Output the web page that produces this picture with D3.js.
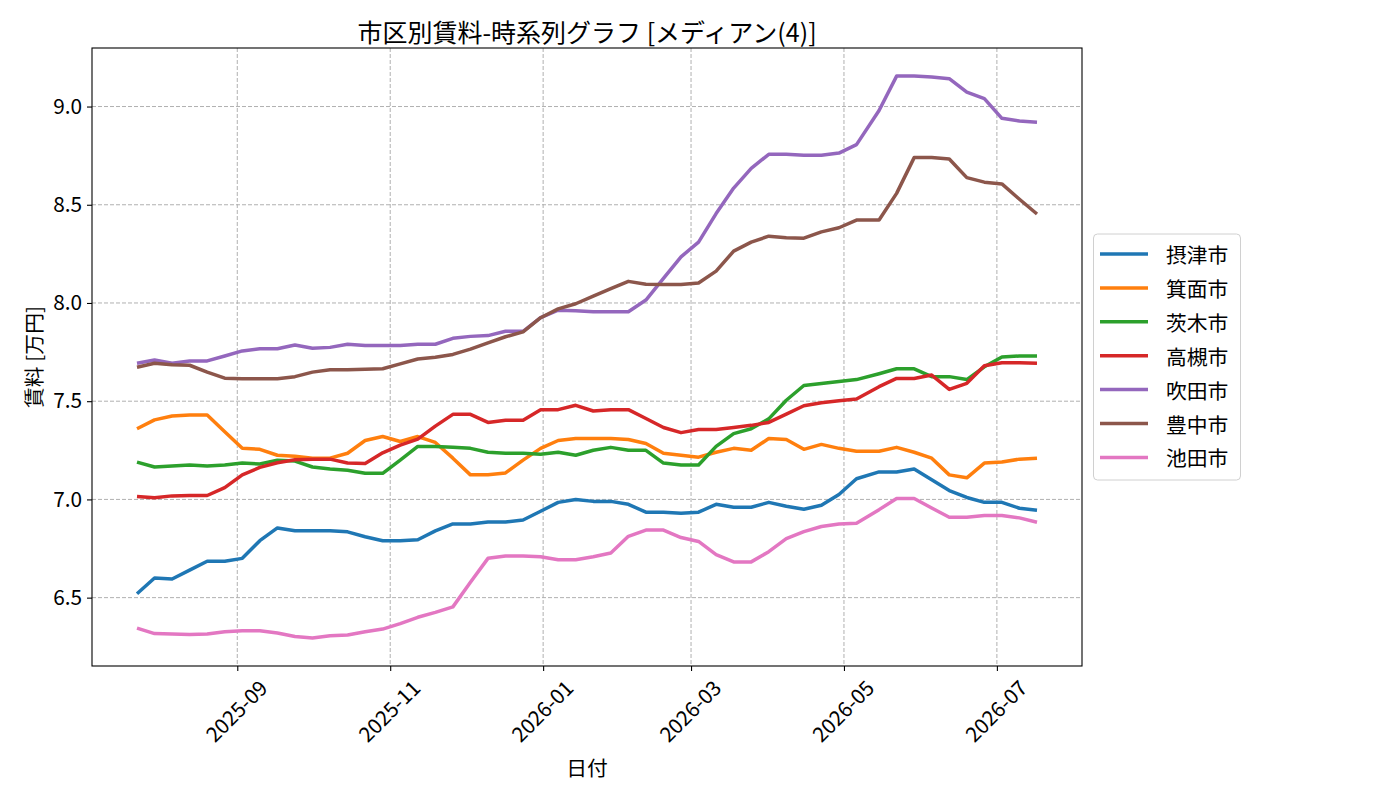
<!DOCTYPE html>
<html>
<head>
<meta charset="utf-8">
<script src="https://cdn.jsdelivr.net/npm/d3@7"></script>
<style>
  body { margin: 0; background: #fff; }
  text { font-family: "Noto Sans CJK JP", "Noto Sans", sans-serif; fill: #000; }
</style>
</head>
<body>
<svg id="chart" width="1400" height="800"></svg>
<script>
// weekly observation dates (one 9-day gap in May 2026)
const dates = [
  "2025-07-23","2025-07-30","2025-08-06","2025-08-13","2025-08-20","2025-08-27",
  "2025-09-03","2025-09-10","2025-09-17","2025-09-24","2025-10-01","2025-10-08",
  "2025-10-15","2025-10-22","2025-10-29","2025-11-05","2025-11-12","2025-11-19",
  "2025-11-26","2025-12-03","2025-12-10","2025-12-17","2025-12-24","2025-12-31",
  "2026-01-07","2026-01-14","2026-01-21","2026-01-28","2026-02-04","2026-02-11",
  "2026-02-18","2026-02-25","2026-03-04","2026-03-11","2026-03-18","2026-03-25",
  "2026-04-01","2026-04-08","2026-04-15","2026-04-22","2026-04-29","2026-05-06",
  "2026-05-15","2026-05-22","2026-05-29","2026-06-05","2026-06-12","2026-06-19",
  "2026-06-26","2026-07-03","2026-07-10","2026-07-17"
];

const cityNames = ["摂津市", "箕面市", "茨木市", "高槻市", "吹田市", "豊中市", "池田市"];
const cityColors = ["#1f77b4", "#ff7f0e", "#2ca02c", "#d62728", "#9467bd", "#8c564b", "#e377c2"];

const settsu = [6.52, 6.60, 6.595, 6.64, 6.685, 6.685, 6.70, 6.79, 6.855, 6.84, 6.84, 6.84, 6.835, 6.81, 6.79, 6.79, 6.795, 6.84, 6.875, 6.875, 6.885, 6.885, 6.895, 6.94, 6.985, 7.00, 6.99, 6.99, 6.975, 6.935, 6.935, 6.93, 6.935, 6.975, 6.96, 6.96, 6.985, 6.965, 6.95, 6.97, 7.025, 7.105, 7.14, 7.14, 7.155, 7.10, 7.045, 7.01, 6.985, 6.985, 6.955, 6.945];
const minoh = [7.36, 7.405, 7.425, 7.43, 7.43, 7.345, 7.26, 7.255, 7.225, 7.22, 7.21, 7.21, 7.235, 7.30, 7.32, 7.295, 7.32, 7.29, 7.21, 7.125, 7.125, 7.135, 7.20, 7.26, 7.30, 7.31, 7.31, 7.31, 7.305, 7.285, 7.235, 7.225, 7.215, 7.24, 7.26, 7.25, 7.31, 7.305, 7.255, 7.28, 7.26, 7.245, 7.245, 7.265, 7.24, 7.21, 7.125, 7.11, 7.185, 7.19, 7.205, 7.21];
const ibaraki = [7.19, 7.165, 7.17, 7.175, 7.17, 7.175, 7.185, 7.18, 7.20, 7.195, 7.165, 7.155, 7.148, 7.133, 7.133, 7.20, 7.27, 7.27, 7.265, 7.26, 7.24, 7.235, 7.235, 7.23, 7.24, 7.225, 7.25, 7.265, 7.25, 7.25, 7.185, 7.175, 7.175, 7.27, 7.335, 7.36, 7.41, 7.505, 7.58, 7.59, 7.60, 7.61, 7.64, 7.665, 7.665, 7.625, 7.625, 7.61, 7.675, 7.725, 7.73, 7.73];
const takatsuki = [7.015, 7.008, 7.018, 7.02, 7.02, 7.06, 7.125, 7.163, 7.187, 7.202, 7.205, 7.205, 7.185, 7.183, 7.237, 7.276, 7.307, 7.373, 7.433, 7.433, 7.392, 7.403, 7.403, 7.457, 7.457, 7.479, 7.45, 7.457, 7.457, 7.412, 7.366, 7.34, 7.356, 7.356, 7.366, 7.377, 7.392, 7.434, 7.477, 7.492, 7.502, 7.511, 7.574, 7.616, 7.616, 7.633, 7.56, 7.591, 7.68, 7.696, 7.696, 7.693];
const suita = [7.693, 7.71, 7.693, 7.705, 7.705, 7.73, 7.756, 7.767, 7.767, 7.786, 7.77, 7.774, 7.79, 7.783, 7.783, 7.783, 7.79, 7.79, 7.82, 7.83, 7.834, 7.856, 7.856, 7.925, 7.963, 7.96, 7.955, 7.955, 7.955, 8.015, 8.125, 8.235, 8.31, 8.455, 8.585, 8.685, 8.757, 8.757, 8.752, 8.752, 8.763, 8.806, 8.98, 9.155, 9.155, 9.15, 9.142, 9.073, 9.04, 8.94, 8.926, 8.92];
const toyonaka = [7.673, 7.693, 7.685, 7.683, 7.648, 7.617, 7.614, 7.614, 7.614, 7.625, 7.648, 7.66, 7.66, 7.663, 7.665, 7.69, 7.715, 7.724, 7.738, 7.765, 7.797, 7.828, 7.853, 7.925, 7.97, 7.996, 8.035, 8.073, 8.11, 8.095, 8.094, 8.094, 8.102, 8.162, 8.264, 8.31, 8.34, 8.332, 8.33, 8.362, 8.383, 8.422, 8.422, 8.558, 8.74, 8.74, 8.733, 8.638, 8.615, 8.606, 8.528, 8.453];
const ikeda = [6.345, 6.317, 6.315, 6.312, 6.315, 6.326, 6.331, 6.331, 6.32, 6.302, 6.295, 6.306, 6.31, 6.326, 6.34, 6.368, 6.4, 6.425, 6.453, 6.578, 6.7, 6.712, 6.712, 6.708, 6.693, 6.693, 6.708, 6.727, 6.812, 6.844, 6.844, 6.806, 6.786, 6.719, 6.682, 6.682, 6.734, 6.8, 6.836, 6.862, 6.875, 6.879, 6.948, 7.005, 7.005, 6.956, 6.909, 6.909, 6.918, 6.918, 6.906, 6.884];

const xTickDates = ["2025-09-01", "2025-11-01", "2026-01-01", "2026-03-01", "2026-05-01", "2026-07-01"];
const yTickValues = [6.5, 7.0, 7.5, 8.0, 8.5, 9.0];

const seriesValues = [settsu, minoh, ibaraki, takatsuki, suita, toyonaka, ikeda];

const svg = d3.select("#chart");
const margin = {top: 48, right: 318, bottom: 134, left: 92};
const width = +svg.attr("width");
const height = +svg.attr("height");
const plotW = width - margin.left - margin.right;
const plotH = height - margin.top - margin.bottom;
const fs = 20.8;
const lw = 3.5;

const parse = d3.timeParse("%Y-%m-%d");
const dateObjs = dates.map(parse);

const series = cityNames.map((name, i) => ({
  name,
  color: cityColors[i],
  values: seriesValues[i].map((v, j) => ({date: dateObjs[j], v}))
}));

// matplotlib style 5% padding
const xExt = d3.extent(dateObjs);
const xPad = (xExt[1] - xExt[0]) * 0.05;
const x = d3.scaleTime()
  .domain([new Date(+xExt[0] - xPad), new Date(+xExt[1] + xPad)])
  .range([0, plotW]);

const allV = seriesValues.flat();
const yMin = d3.min(allV), yMax = d3.max(allV);
const yPad = (yMax - yMin) * 0.05;
const y = d3.scaleLinear()
  .domain([yMin - yPad, yMax + yPad])
  .range([plotH, 0]);

const g = svg.append("g").attr("transform", `translate(${margin.left},${margin.top})`);

// grid
g.append("g").selectAll("line")
  .data(yTickValues)
  .join("line")
  .attr("x1", 0).attr("x2", plotW)
  .attr("y1", d => y(d)).attr("y2", d => y(d))
  .attr("stroke", "#b0b0b0").attr("stroke-width", 1)
  .attr("stroke-dasharray", "4,2");

g.append("g").selectAll("line")
  .data(xTickDates.map(parse))
  .join("line")
  .attr("x1", d => x(d)).attr("x2", d => x(d))
  .attr("y1", 0).attr("y2", plotH)
  .attr("stroke", "#b0b0b0").attr("stroke-width", 1)
  .attr("stroke-dasharray", "4,2");

// lines
const line = d3.line()
  .x(d => x(d.date))
  .y(d => y(d.v));

g.selectAll(".series")
  .data(series)
  .join("path")
  .attr("class", "series")
  .attr("d", d => line(d.values))
  .attr("fill", "none")
  .attr("stroke", d => d.color)
  .attr("stroke-width", lw)
  .attr("stroke-linejoin", "round");

// axes
const xAxis = g.append("g")
  .attr("transform", `translate(0,${plotH})`)
  .call(d3.axisBottom(x)
    .tickValues(xTickDates.map(parse))
    .tickFormat(d3.timeFormat("%Y-%m"))
    .tickSize(5));

xAxis.select(".domain").remove();
xAxis.selectAll(".tick line").attr("stroke", "#000").attr("stroke-width", 1.1);
xAxis.selectAll(".tick text")
  .style("font-size", fs + "px")
  .attr("fill", "#000")
  .attr("text-anchor", "middle")
  .attr("dy", "0.35em")
  .each(function() {
    const w = this.getComputedTextLength();
    const h = (w + fs) * Math.SQRT1_2;
    d3.select(this)
      .attr("x", 0)
      .attr("y", 0)
      .attr("transform", `translate(-1,${11 + h / 2}) rotate(-45)`);
  });

const yAxis = g.append("g")
  .call(d3.axisLeft(y)
    .tickValues(yTickValues)
    .tickFormat(d3.format(".1f"))
    .tickSize(5)
    .tickPadding(5));

yAxis.select(".domain").remove();
yAxis.selectAll(".tick line").attr("stroke", "#000").attr("stroke-width", 1.1);
yAxis.selectAll(".tick text")
  .style("font-size", fs + "px")
  .attr("fill", "#000");

// frame
g.append("rect")
  .attr("x", 0).attr("y", 0)
  .attr("width", plotW).attr("height", plotH)
  .attr("fill", "none")
  .attr("stroke", "#000")
  .attr("stroke-width", 1.1);

// title & labels
svg.append("text")
  .attr("x", margin.left + plotW / 2)
  .attr("y", 31)
  .attr("text-anchor", "middle")
  .attr("dominant-baseline", "central")
  .style("font-size", "25px")
  .text("市区別賃料-時系列グラフ [メディアン(4)]");

svg.append("text")
  .attr("x", margin.left + plotW / 2)
  .attr("y", 767)
  .attr("text-anchor", "middle")
  .attr("dominant-baseline", "central")
  .style("font-size", fs + "px")
  .text("日付");

svg.append("text")
  .attr("transform", `translate(33,${margin.top + plotH / 2}) rotate(-90)`)
  .attr("text-anchor", "middle")
  .attr("dominant-baseline", "central")
  .style("font-size", fs + "px")
  .text("賃料 [万円]");

// legend
const legend = svg.append("g").attr("transform", "translate(1093.5,234)");

legend.append("rect")
  .attr("width", 147)
  .attr("height", 246)
  .attr("rx", 4)
  .attr("fill", "#fff")
  .attr("stroke", "#d0d0d0")
  .attr("stroke-width", 1);

const items = legend.selectAll(".item")
  .data(series)
  .join("g")
  .attr("class", "item")
  .attr("transform", (d, i) => `translate(0,${20 + i * 33.9})`);

items.append("line")
  .attr("x1", 6.5).attr("x2", 54.5)
  .attr("y1", 0).attr("y2", 0)
  .attr("stroke", d => d.color)
  .attr("stroke-width", lw);

items.append("text")
  .attr("x", 72.5)
  .attr("y", 0)
  .attr("dominant-baseline", "central")
  .style("font-size", fs + "px")
  .text(d => d.name);
</script>
</body>
</html>
